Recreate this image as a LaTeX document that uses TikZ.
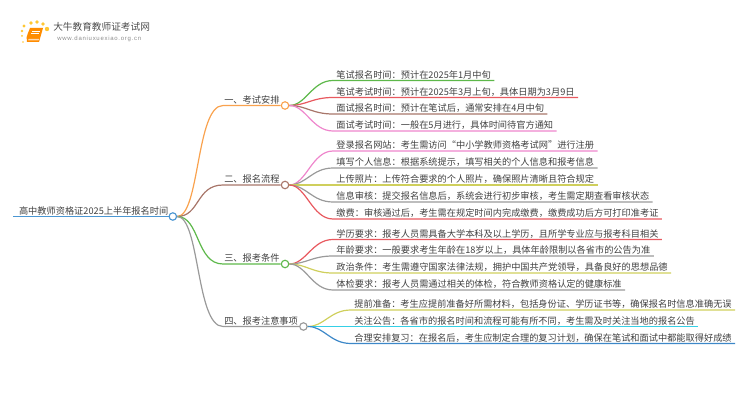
\documentclass[tikz,border=0pt]{standalone}
\usepackage{fontspec}
\setmainfont{Noto Sans CJK SC}
\newfontfamily\urlfont[LetterSpace=12]{Liberation Sans}
\usepackage{xcolor}
\usetikzlibrary{positioning}

\definecolor{lblue}{HTML}{4A96D2}
\definecolor{lorange}{HTML}{F9A24E}
\definecolor{lbrown}{HTML}{A8766A}
\definecolor{lgreen}{HTML}{5DB84A}
\definecolor{lgray}{HTML}{9A9A9A}
\definecolor{lred}{HTML}{E8595F}
\definecolor{lpink}{HTML}{EE86CC}
\definecolor{lolive}{HTML}{CFCF5C}
\definecolor{lcyan}{HTML}{35D0E6}
\definecolor{ldeep}{HTML}{3D88C8}
\definecolor{ltext}{HTML}{404040}

\tikzset{
    label text/.style={font=\fontsize{6.9pt}{8pt}\selectfont, text=ltext, inner ysep=0.9pt},
    root/.style={label text, anchor=south west, inner xsep=0pt, text width=116.25pt, align=right},
    sec/.style={label text, anchor=south west, inner xsep=0.75pt},
    leaf/.style={label text, anchor=south west, inner xsep=2.4pt},
    dot/.style={circle, draw=#1, fill=white, line width=0.85pt, minimum size=5.6pt, inner sep=0pt, anchor=west},
    branch/.style={line width=0.9pt, to path={(\tikztostart) .. controls +(#1,0) and +(-#1,0) .. (\tikztotarget.south west) -- (\tikztotarget.south east)}},
    branch/.default=21
}

\begin{document}
\begin{tikzpicture}[x=0.75pt, y=-0.75pt]
    \useasboundingbox (0,0) rectangle (750,410);

    % logo
    \foreach \px/\py/\pr in {24/26/1.6, 31/23/1.9, 37/22/1.9, 43/24/1.9, 47/29/2.2, 22/31/1.3, 22/36/1, 23/42/0.8}
        \fill[orange!55!yellow, opacity=0.8] (\px,\py) circle[radius=\pr];
    \fill[orange!90!yellow] (30,28) -- (43,28) -- (39,42) -- (27,42) .. controls (26,38) .. (30,28);
    \fill[orange!30!white] (28.5,39) -- (39,39) -- (38.6,40.5) -- (28.2,40.5) -- cycle;
    \draw[white, line width=0.35pt] (32,31) -- (40,31) (31.3,33.5) -- (39.3,33.5);
    \node[font=\fontsize{7.25pt}{8pt}\selectfont, text=black!70, inner sep=0pt, anchor=west] (logotext) at (53,27) {大牛教育教师证考试网};
    \node[font=\urlfont\fontsize{4.5pt}{5pt}\selectfont, text=black!45, inner sep=0pt, anchor=west] (logourl) at (57,39) {www.daniuxuexiao.org.cn};

    % main topic
    \node[root] (main) at (13,216.5) {高中教师资格证2025上半年报名时间};
    \node[dot=lblue] (c0) at (main.south east) {};
    \draw[lblue, line width=1.1pt] (main.south west) -- (main.south east);

    % sections
    \node[sec] (sec1) at (223,105.5) {一、考试安排};
    \node[sec] (sec2) at (223,185) {二、报名流程};
    \node[sec] (sec3) at (223,264) {三、报考条件};
    \node[sec] (sec4) at (223,326.5) {四、报考注意事项};
    \node[dot=lorange] (c1) at (sec1.south east) {};
    \node[dot=lbrown] (c2) at (sec2.south east) {};
    \node[dot=lgreen] (c3) at (sec3.south east) {};
    \node[dot=lgray] (c4) at (sec4.south east) {};

    % leaves
    \node[leaf] (a1) at (333,80.5) {笔试报名时间：预计在2025年1月中旬};
    \node[leaf] (a2) at (333,97.5) {笔试考试时间：预计在2025年3月上旬，具体日期为3月9日};
    \node[leaf] (a3) at (333,114) {面试报名时间：预计在笔试后，通常安排在4月中旬};
    \node[leaf] (a4) at (333,131) {面试考试时间：一般在5月进行，具体时间待官方通知};
    \node[leaf] (b1) at (333,151) {登录报名网站：考生需访问“中小学教师资格考试网”进行注册};
    \node[leaf] (b2) at (333,168) {填写个人信息：根据系统提示，填写相关的个人信息和报考信息};
    \node[leaf] (b3) at (333,185) {上传照片：上传符合要求的个人照片，确保照片清晰且符合规定};
    \node[leaf] (b4) at (333,202) {信息审核：提交报名信息后，系统会进行初步审核，考生需定期查看审核状态};
    \node[leaf] (b5) at (333,219) {缴费：审核通过后，考生需在规定时间内完成缴费，缴费成功后方可打印准考证};
    \node[leaf] (d1) at (333,239.5) {学历要求：报考人员需具备大学本科及以上学历，且所学专业应与报考科目相关};
    \node[leaf] (d2) at (333,256) {年龄要求：一般要求考生年龄在18岁以上，具体年龄限制以各省市的公告为准};
    \node[leaf] (d3) at (333,273) {政治条件：考生需遵守国家法律法规，拥护中国共产党领导，具备良好的思想品德};
    \node[leaf] (d4) at (333,290) {体检要求：报考人员需通过相关的体检，符合教师资格认定的健康标准};
    \node[leaf] (e1) at (351,310) {提前准备：考生应提前准备好所需材料，包括身份证、学历证书等，确保报名时信息准确无误};
    \node[leaf] (e2) at (351,326.5) {关注公告：各省市的报名时间和流程可能有所不同，考生需及时关注当地的报名公告};
    \node[leaf] (e3) at (351,343.5) {合理安排复习：在报名后，考生应制定合理的复习计划，确保在笔试和面试中都能取得好成绩};

    \path
        (c0) edge[branch=27, lorange] (sec1)
             edge[branch=27, lbrown] (sec2)
             edge[branch=27, lgreen] (sec3)
             edge[branch=27, lgray] (sec4)
        (c1) edge[branch, lgreen] (a1)
             edge[branch, lred] (a2)
             edge[branch, lbrown] (a3)
             edge[branch, lpink] (a4)
        (c2) edge[branch, lpink] (b1)
             edge[branch, lgray] (b2)
             edge[branch, lolive] (b3)
             edge[branch, lgray] (b4)
             edge[branch, lred] (b5)
        (c3) edge[branch, lred] (d1)
             edge[branch, lgray] (d2)
             edge[branch, lolive] (d3)
             edge[branch, lgray] (d4)
        (c4) edge[branch, lolive] (e1)
             edge[branch, lcyan] (e2)
             edge[branch, ldeep] (e3);
\end{tikzpicture}
\end{document}
